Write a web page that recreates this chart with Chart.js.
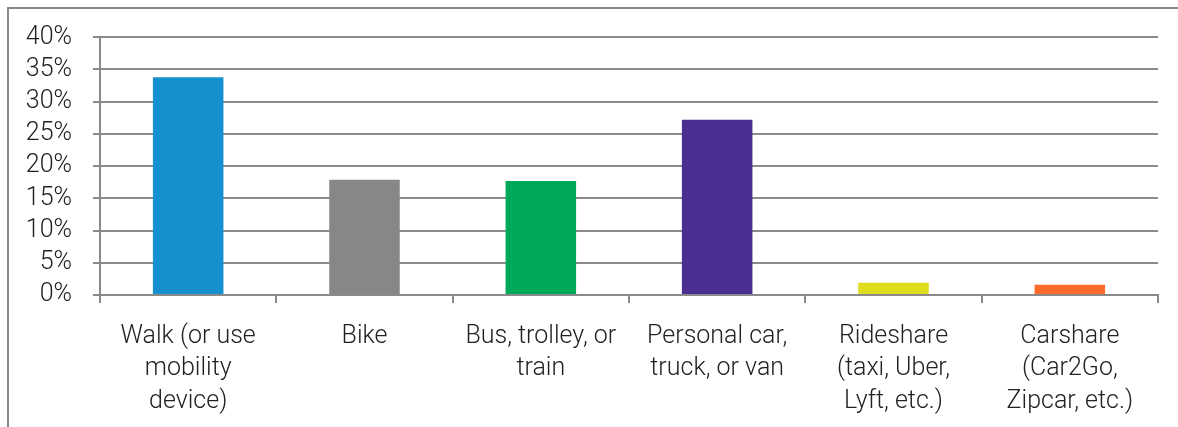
<!DOCTYPE html>
<html lang="en">
<head>
    <meta charset="UTF-8">
    <title>Mode share</title>
    <style>
        body {
            margin: 0;
            background: #fff;
        }
        #frame {
            position: absolute;
            left: 7px;
            top: 7px;
            width: 1171px;
            height: 420px;
            border-left: 2px solid #8a8a8a;
            border-top: 2px solid #8a8a8a;
        }
        #wrap {
            position: absolute;
            left: 0;
            top: 0;
            width: 1178px;
            height: 427px;
        }
    </style>
    <script src="https://cdn.jsdelivr.net/npm/chart.js"></script>
</head>
<body>
    <div id="frame"></div>
    <div id="wrap"><canvas id="modeChart"></canvas></div>

    <script>
        const categories = [
            ['Walk (or use', 'mobility', 'device)'],
            ['Bike'],
            ['Bus, trolley, or', 'train'],
            ['Personal car,', 'truck, or van'],
            ['Rideshare', '(taxi, Uber,', 'Lyft, etc.)'],
            ['Carshare', '(Car2Go,', 'Zipcar, etc.)']
        ];
        const shares = [33.8, 17.9, 17.7, 27.2, 1.9, 1.6];
        const barColors = ['#1790cf', '#878787', '#00a85a', '#4a2f91', '#e0dc1e', '#ff6a2a'];
        const yTicks = [0, 5, 10, 15, 20, 25, 30, 35, 40];

        const gridGray = '#8a8a8a';
        const labelFont = { family: 'Roboto', size: 25, weight: '300', lineHeight: 1.3 };

        new Chart(document.getElementById('modeChart'), {
            type: 'bar',
            data: {
                labels: categories,
                datasets: [{
                    data: shares,
                    backgroundColor: barColors,
                    borderWidth: 0,
                    categoryPercentage: 1,
                    barPercentage: 0.4
                }]
            },
            options: {
                responsive: true,
                maintainAspectRatio: false,
                animation: false,
                layout: { padding: { top: 32, right: 20, left: 0, bottom: 0 } },
                plugins: {
                    legend: { display: false },
                    tooltip: { enabled: false }
                },
                scales: {
                    x: {
                        grid: {
                            offset: true,
                            drawOnChartArea: false,
                            drawTicks: true,
                            tickLength: 8,
                            color: gridGray,
                            lineWidth: 2
                        },
                        border: { color: gridGray, width: 2 },
                        ticks: {
                            color: '#222',
                            font: labelFont,
                            maxRotation: 0,
                            autoSkip: false,
                            padding: 17
                        },
                        afterFit: scale => { scale.height = 132; }
                    },
                    y: {
                        min: 0,
                        max: 40,
                        afterBuildTicks: scale => {
                            scale.ticks = yTicks.map(v => ({ value: v }));
                        },
                        grid: {
                            color: gridGray,
                            lineWidth: 2,
                            tickLength: 7
                        },
                        border: { color: gridGray, width: 2 },
                        ticks: {
                            color: '#222',
                            font: labelFont,
                            padding: 21,
                            autoSkip: false,
                            callback: v => v + '%'
                        },
                        afterFit: scale => { scale.width = 100; }
                    }
                }
            }
        });
    </script>
</body>
</html>
